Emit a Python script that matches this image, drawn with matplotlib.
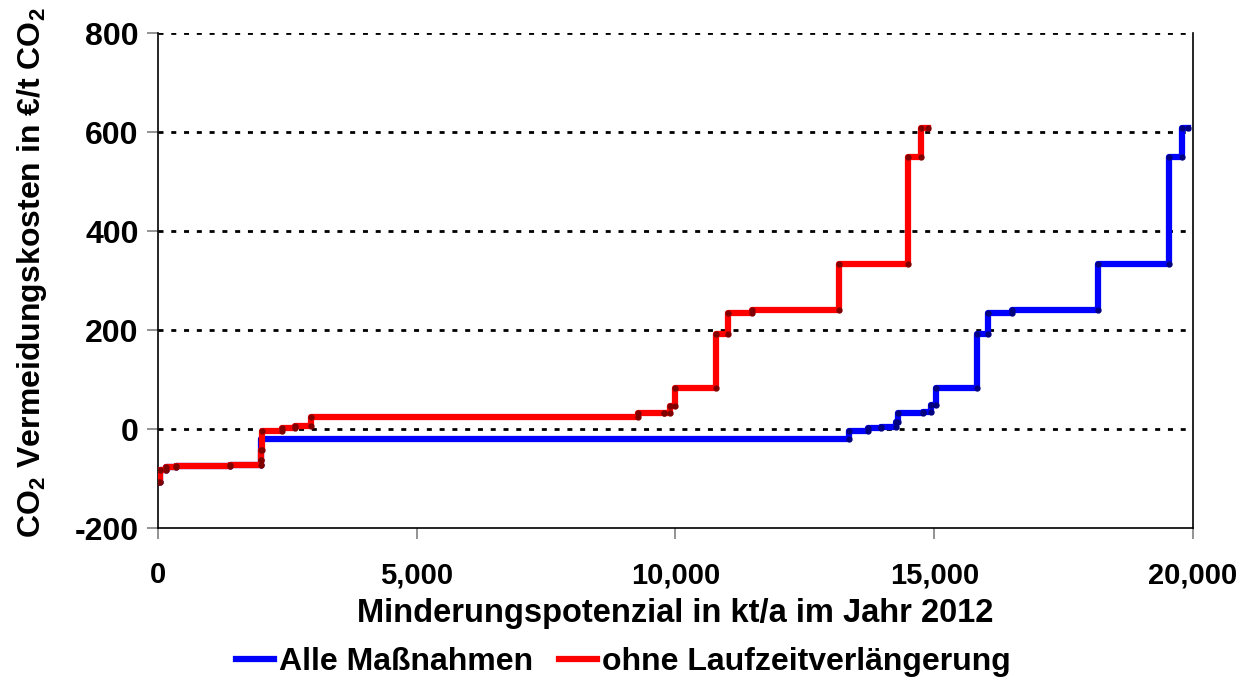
import numpy as np
import matplotlib
matplotlib.use('Agg')
import matplotlib.pyplot as plt
from matplotlib.ticker import FuncFormatter

plt.rcParams['font.family'] = ['Liberation Sans', 'DejaVu Sans']
plt.rcParams['font.weight'] = 'bold'
plt.rcParams['axes.unicode_minus'] = False
plt.rcParams['mathtext.fontset'] = 'custom'
plt.rcParams['mathtext.rm'] = 'Liberation Sans:bold'
plt.rcParams['mathtext.bf'] = 'Liberation Sans:bold'

# measures: segment end (cumulative kt/a) and cost (EUR/t CO2)
red_ends = [30, 160, 340, 1400, 1995, 2000, 2005, 2390, 2650, 2950, 9280,
            9770, 9900, 10000, 10790, 11010, 11480, 13150, 14500, 14750, 14880]
red_costs = [-107, -83, -77, -75, -72, -62, -42, -4, 2, 6, 24,
             32, 33, 46, 82, 192, 234, 240, 333, 550, 609]

blue_ends = [30, 160, 340, 1400, 2000, 13350, 13720, 13970, 14260, 14290,
             14790, 14940, 15030, 15820, 16040, 16510, 18170, 19540, 19780, 19910]
blue_costs = [-107, -83, -77, -75, -72, -21, -4, 2, 5, 15,
              33, 35, 48, 82, 192, 234, 240, 333, 550, 609]


def step_vertices(ends, costs):
    # each measure gives a horizontal segment from previous end to its own end
    starts = [0] + list(ends[:-1])
    xs, ys = [], []
    for s, e, c in zip(starts, ends, costs):
        xs += [s, e]
        ys += [c, c]
    return np.array(xs), np.array(ys)


fig = plt.figure(figsize=(12.47, 6.82), dpi=100)
ax = fig.add_axes([0.1267, 0.2258, 0.83, 0.7258])

bx, by = step_vertices(blue_ends, blue_costs)
rx, ry = step_vertices(red_ends, red_costs)

ax.plot(bx, by, color='#0000ff', lw=4.5, marker='o', ms=3.5,
        mfc='#000080', mec='#000080', label='Alle Maßnahmen', zorder=3)
ax.plot(rx, ry, color='#ff0000', lw=4.5, marker='o', ms=3.5,
        mfc='#800000', mec='#800000', label='ohne Laufzeitverlängerung', zorder=4)

ax.set_xlim(0, 20000)
ax.set_ylim(-200, 800)
ax.set_xticks([0, 5000, 10000, 15000, 20000])
ax.set_yticks([-200, 0, 200, 400, 600, 800])
ax.xaxis.set_major_formatter(FuncFormatter(lambda v, p: f'{int(v):,}'))

for yv in [0, 200, 400, 600, 800]:
    ax.axhline(yv, color='black', lw=2, ls=(0, (1.8, 2.8)), zorder=1)

ax.spines['top'].set_visible(False)
for sp in ['left', 'right', 'bottom']:
    ax.spines[sp].set_linewidth(1.2)
    ax.spines[sp].set_color('black')

ax.tick_params(axis='both', direction='out', length=8, width=1.2,
               color='#808080')
ax.tick_params(axis='x', pad=16, labelsize=21)
ax.tick_params(axis='y', pad=6, labelsize=23)
for lab in ax.get_xticklabels() + ax.get_yticklabels():
    lab.set_fontweight('bold')

ax.set_xlabel('Minderungspotenzial in kt/a im Jahr 2012', fontsize=23.5,
              fontweight='bold', labelpad=6)
ax.set_ylabel(r'CO$_{2}$ Vermeidungskosten in €/t CO$_{2}$', fontsize=23,
              fontweight='bold', labelpad=18)
ax.yaxis.set_label_coords(-0.105, 0.515)

leg = fig.legend(loc='lower center', bbox_to_anchor=(0.5, -0.035), ncol=2,
                 frameon=False, fontsize=23, handlelength=1.2,
                 handletextpad=0.15, columnspacing=0.8, markerscale=0.01)
for t in leg.get_texts():
    t.set_fontweight('bold')

fig.savefig('out.png', dpi=100)
